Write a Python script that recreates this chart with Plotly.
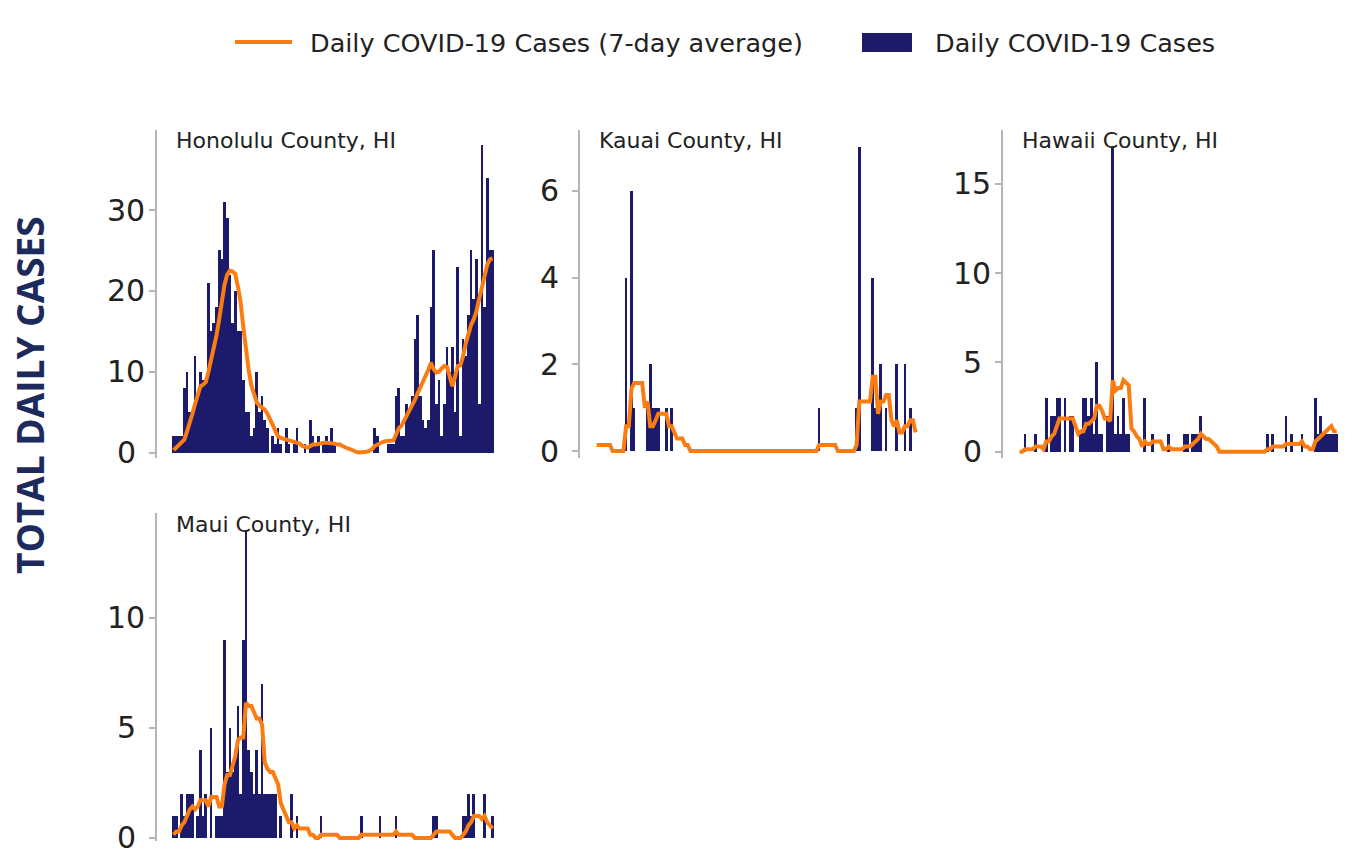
import plotly.graph_objects as go

# ---- data: daily COVID-19 cases and 7-day averages, one value per day ----
days = list(range(120))

honolulu_cases = [
    2, 2, 2, 2, 8, 10, 5, 5, 12, 7,
    10, 9, 9, 21, 15, 16, 18, 25, 24, 31,
    29, 22, 16, 20, 15, 15, 9, 5, 5, 2,
    3, 10, 5, 7, 4, 3, 0, 2, 1, 3,
    1, 0, 3, 1, 0, 1, 3, 0, 0, 1,
    0, 4, 2, 1, 2, 0, 1, 2, 1, 3,
    1, 0, 0, 0, 0, 0, 0, 0, 0, 0,
    0, 0, 0, 0, 0, 3, 2, 0, 0, 0,
    1, 1, 1, 7, 8, 2, 2, 6, 5, 7,
    14, 17, 7, 4, 3, 4, 18, 25, 6, 9,
    2, 6, 13, 10, 13, 5, 23, 2, 14, 12,
    17, 25, 19, 24, 6, 38, 18, 34, 25, 25,
]
honolulu_avg = [
    0.3, 0.6, 0.9, 1.2, 1.6, 2.6, 3.6, 4.8, 6.0, 7.3,
    8.2, 8.4, 8.7, 10.0, 11.4, 12.6, 14.5, 16.5, 18.6, 20.8,
    22.0, 22.5, 22.4, 22.1, 20.5, 18.6, 15.5, 12.5, 10.2, 8.3,
    7.0, 6.2, 5.8, 5.5, 5.3, 4.8, 4.2, 3.4, 2.6, 2.0,
    1.8, 1.7, 1.6, 1.5, 1.4, 1.4, 1.3, 1.1, 0.8, 0.7,
    0.6, 0.8, 1.0, 1.0, 1.1, 1.2, 1.2, 1.2, 1.2, 1.1,
    1.1, 1.0, 1.0, 0.8, 0.6, 0.5, 0.4, 0.2, 0.1, 0.0,
    0.0, 0.0, 0.1, 0.2, 0.4, 0.8, 1.0, 1.1, 1.3, 1.4,
    1.4, 1.4, 1.5, 2.2, 3.0, 3.3, 3.9, 4.5, 5.2, 5.7,
    6.5, 7.3, 8.0, 8.6, 9.4, 10.2, 11.1, 10.3, 9.9, 10.0,
    10.4, 10.7, 10.6, 9.5, 8.2, 9.4, 10.7, 10.8, 11.9, 13.5,
    14.8, 15.8, 16.5, 17.5, 19.0, 20.6, 22.0, 23.2, 23.9, 24.0,
]

kauai_cases = [
    0, 0, 0, 0, 0, 0, 0, 0, 0, 0,
    0, 4, 0, 6, 1, 0, 0, 0, 0, 1,
    2, 1, 1, 1, 0, 0, 1, 0, 1, 0,
    0, 0, 0, 0, 0, 0, 0, 0, 0, 0,
    0, 0, 0, 0, 0, 0, 0, 0, 0, 0,
    0, 0, 0, 0, 0, 0, 0, 0, 0, 0,
    0, 0, 0, 0, 0, 0, 0, 0, 0, 0,
    0, 0, 0, 0, 0, 0, 0, 0, 0, 0,
    0, 0, 0, 1, 0, 0, 0, 0, 0, 0,
    0, 0, 0, 0, 0, 0, 0, 1, 7, 0,
    0, 0, 0, 4, 1, 1, 2, 0, 1, 0,
    0, 0, 2, 0, 0, 2, 0, 1, 0, 0,
]
kauai_avg = [
    0.14, 0.14, 0.14, 0.14, 0.14, 0.14, 0.0, 0.0, 0.0, 0.0,
    0.0, 0.57, 0.57, 1.43, 1.57, 1.57, 1.57, 1.57, 1.0, 1.14,
    0.57, 0.57, 0.71, 0.86, 0.86, 0.86, 0.86, 0.57, 0.57, 0.43,
    0.29, 0.29, 0.29, 0.14, 0.14, 0.0, 0.0, 0.0, 0.0, 0.0,
    0.0, 0.0, 0.0, 0.0, 0.0, 0.0, 0.0, 0.0, 0.0, 0.0,
    0.0, 0.0, 0.0, 0.0, 0.0, 0.0, 0.0, 0.0, 0.0, 0.0,
    0.0, 0.0, 0.0, 0.0, 0.0, 0.0, 0.0, 0.0, 0.0, 0.0,
    0.0, 0.0, 0.0, 0.0, 0.0, 0.0, 0.0, 0.0, 0.0, 0.0,
    0.0, 0.0, 0.0, 0.14, 0.14, 0.14, 0.14, 0.14, 0.14, 0.14,
    0.0, 0.0, 0.0, 0.0, 0.0, 0.0, 0.0, 0.14, 1.14, 1.14,
    1.14, 1.14, 1.14, 1.71, 1.71, 0.86, 1.14, 1.14, 1.29, 1.29,
    0.71, 0.57, 0.71, 0.43, 0.43, 0.57, 0.57, 0.71, 0.71, 0.43,
]

hawaii_cases = [
    0, 0, 1, 0, 0, 0, 1, 0, 0, 0,
    3, 0, 2, 2, 3, 3, 0, 3, 0, 2,
    2, 0, 0, 1, 3, 3, 2, 3, 1, 5,
    1, 1, 0, 2, 2, 17, 1, 2, 1, 3,
    1, 1, 0, 0, 0, 0, 0, 3, 0, 0,
    1, 0, 0, 0, 0, 0, 1, 0, 0, 0,
    0, 0, 1, 1, 0, 1, 1, 1, 2, 0,
    0, 0, 0, 0, 0, 0, 0, 0, 0, 0,
    0, 0, 0, 0, 0, 0, 0, 0, 0, 0,
    0, 0, 0, 1, 0, 1, 0, 0, 0, 0,
    2, 0, 1, 0, 0, 0, 1, 0, 0, 0,
    0, 3, 1, 2, 1, 1, 1, 1, 1, 1,
]
hawaii_avg = [
    0.0, 0.0, 0.14, 0.14, 0.14, 0.14, 0.29, 0.29, 0.29, 0.14,
    0.57, 0.57, 0.86, 1.0, 1.43, 1.86, 1.86, 1.86, 1.86, 1.86,
    1.86, 1.43, 1.0, 1.14, 1.14, 1.57, 1.57, 1.71, 1.86, 2.57,
    2.57, 2.29, 1.86, 1.86, 1.71, 4.0, 3.43, 3.57, 3.57, 4.0,
    3.86, 3.71, 1.29, 1.14, 0.86, 0.71, 0.29, 0.57, 0.43, 0.43,
    0.57, 0.57, 0.57, 0.57, 0.14, 0.14, 0.29, 0.14, 0.14, 0.14,
    0.14, 0.14, 0.29, 0.29, 0.29, 0.43, 0.57, 0.71, 1.0, 0.86,
    0.71, 0.71, 0.57, 0.43, 0.29, 0.0, 0.0, 0.0, 0.0, 0.0,
    0.0, 0.0, 0.0, 0.0, 0.0, 0.0, 0.0, 0.0, 0.0, 0.0,
    0.0, 0.0, 0.0, 0.14, 0.14, 0.29, 0.29, 0.29, 0.29, 0.29,
    0.43, 0.43, 0.43, 0.43, 0.43, 0.43, 0.57, 0.29, 0.29, 0.14,
    0.14, 0.57, 0.71, 0.86, 1.0, 1.14, 1.29, 1.43, 1.14, 1.14,
]

maui_cases = [
    1, 1, 0, 2, 1, 2, 2, 2, 0, 1,
    4, 1, 2, 0, 5, 0, 1, 1, 1, 9,
    3, 5, 3, 4, 6, 2, 9, 14, 4, 3,
    2, 4, 2, 7, 2, 2, 2, 2, 2, 0,
    1, 0, 0, 0, 2, 0, 1, 0, 0, 0,
    0, 0, 0, 0, 0, 1, 0, 0, 0, 0,
    0, 0, 0, 0, 0, 0, 0, 0, 0, 0,
    1, 0, 0, 0, 0, 0, 0, 1, 0, 0,
    0, 0, 0, 1, 0, 0, 0, 0, 0, 0,
    0, 0, 0, 0, 0, 0, 0, 1, 1, 0,
    0, 0, 0, 0, 0, 0, 0, 0, 1, 1,
    2, 1, 2, 0, 0, 0, 2, 0, 0, 1,
]
maui_avg = [
    0.14, 0.29, 0.29, 0.57, 0.71, 1.0, 1.29, 1.43, 1.29, 1.43,
    1.71, 1.71, 1.71, 1.43, 1.86, 1.86, 1.86, 1.43, 1.43, 2.43,
    2.86, 2.86, 3.29, 3.71, 4.43, 4.57, 4.57, 6.14, 6.0, 6.0,
    5.71, 5.43, 5.43, 5.14, 3.43, 3.14, 3.0, 3.0, 2.71, 2.43,
    1.57, 1.29, 1.0, 0.71, 0.71, 0.43, 0.57, 0.43, 0.43, 0.43,
    0.43, 0.14, 0.14, 0.0, 0.0, 0.14, 0.14, 0.14, 0.14, 0.14,
    0.14, 0.14, 0.0, 0.0, 0.0, 0.0, 0.0, 0.0, 0.0, 0.0,
    0.14, 0.14, 0.14, 0.14, 0.14, 0.14, 0.14, 0.14, 0.14, 0.14,
    0.14, 0.14, 0.14, 0.29, 0.14, 0.14, 0.14, 0.14, 0.14, 0.14,
    0.0, 0.0, 0.0, 0.0, 0.0, 0.0, 0.0, 0.14, 0.29, 0.29,
    0.29, 0.29, 0.29, 0.29, 0.14, 0.0, 0.0, 0.0, 0.14, 0.29,
    0.57, 0.71, 1.0, 1.0, 1.0, 0.86, 1.0, 0.71, 0.57, 0.43,
]

county_names = ["Honolulu County, HI", "Kauai County, HI", "Hawaii County, HI", "Maui County, HI"]
county_cases = [honolulu_cases, kauai_cases, hawaii_cases, maui_cases]
county_avg = [honolulu_avg, kauai_avg, hawaii_avg, maui_avg]
county_ticks = [[0, 10, 20, 30], [0, 2, 4, 6], [0, 5, 10, 15], [0, 5, 10]]

legend_avg_label = "Daily COVID-19 Cases (7-day average)"
legend_bar_label = "Daily COVID-19 Cases"
y_title = "TOTAL DAILY CASES"

# ---- styling / layout ----
W, H = 1354, 864
BAR_COLOR = "#1b1a6b"
LINE_COLOR = "#fb7d12"
TITLE_COLOR = "#1d2a5c"
SPINE_COLOR = "#b5b5b5"
TEXT_COLOR = "#222222"

# panel boxes in pixels: (left, right, top, bottom)
panel_boxes = [
    (157, 510, 130, 458),
    (580, 933, 130, 458),
    (1003, 1354, 130, 458),
    (157, 510, 513, 841),
]
y_ranges = [(-0.68, 39.9), (-0.16, 7.40), (-0.35, 18.0), (-0.14, 14.77)]
x_range = (-6.2, 125.5)


def px_x(p):
    return p / W


def px_y(p):
    return 1 - p / H


fig = go.Figure()
layout_axes = {}
annotations = []

for k, (name, cases, avg, ticks) in enumerate(zip(county_names, county_cases, county_avg, county_ticks)):
    n = "" if k == 0 else str(k + 1)
    xa, ya = "x" + n, "y" + n
    fig.add_trace(go.Bar(
        x=days, y=cases, xaxis=xa, yaxis=ya,
        marker=dict(color=BAR_COLOR, line=dict(width=0)),
        showlegend=False, name=legend_bar_label,
    ))
    fig.add_trace(go.Scatter(
        x=days, y=avg, xaxis=xa, yaxis=ya, mode="lines",
        line=dict(color=LINE_COLOR, width=4),
        showlegend=False, name=legend_avg_label,
    ))
    l, r, t, b = panel_boxes[k]
    layout_axes["xaxis" + n] = dict(
        domain=[px_x(l), px_x(r)], range=list(x_range), anchor=ya,
        showline=False, showgrid=False, zeroline=False, showticklabels=False, ticks="",
    )
    layout_axes["yaxis" + n] = dict(
        domain=[px_y(b), px_y(t)], range=list(y_ranges[k]), anchor=xa,
        showline=True, linecolor=SPINE_COLOR, linewidth=1.5,
        showgrid=False, zeroline=False, showticklabels=False,
        tickvals=ticks, ticks="outside", ticklen=6, tickcolor=SPINE_COLOR, tickwidth=1.5,
    )
    # tick labels, centred a fixed distance left of the axis line
    for v in ticks:
        annotations.append(dict(
            text=str(v), xref="paper", yref=ya, x=px_x(l - 31), y=v,
            xanchor="center", yanchor="middle", showarrow=False,
            font=dict(family="DejaVu Sans", size=30, color=TEXT_COLOR),
        ))
    annotations.append(dict(
        text=name, xref="paper", yref="paper",
        x=px_x(l + 17), y=px_y(t + 11), xanchor="left", yanchor="middle",
        showarrow=False, font=dict(family="DejaVu Sans", size=22, color=TEXT_COLOR),
    ))

# y-axis title shared by all panels
annotations.append(dict(
    text="<b>%s</b>" % y_title, xref="paper", yref="paper",
    x=px_x(29), y=px_y(395), xanchor="center", yanchor="middle", textangle=-90,
    showarrow=False, font=dict(family="Open Sans", size=37, color=TITLE_COLOR),
))

# legend entries
annotations.append(dict(
    text=legend_avg_label, xref="paper", yref="paper",
    x=px_x(308), y=px_y(43), xanchor="left", yanchor="middle",
    showarrow=False, font=dict(family="DejaVu Sans", size=25.5, color=TEXT_COLOR),
))
annotations.append(dict(
    text=legend_bar_label, xref="paper", yref="paper",
    x=px_x(933), y=px_y(43), xanchor="left", yanchor="middle",
    showarrow=False, font=dict(family="DejaVu Sans", size=25.5, color=TEXT_COLOR),
))
shapes = [
    dict(type="line", xref="paper", yref="paper",
         x0=px_x(235), x1=px_x(292), y0=px_y(42), y1=px_y(42),
         line=dict(color=LINE_COLOR, width=4)),
    dict(type="rect", xref="paper", yref="paper",
         x0=px_x(862), x1=px_x(912), y0=px_y(52), y1=px_y(33),
         fillcolor=BAR_COLOR, line=dict(width=0)),
]

fig.update_layout(
    width=W, height=H,
    margin=dict(l=0, r=0, t=0, b=0),
    paper_bgcolor="white", plot_bgcolor="white",
    bargap=0,
    showlegend=False,
    annotations=annotations,
    shapes=shapes,
    **layout_axes,
)

fig.write_html("out.html")
